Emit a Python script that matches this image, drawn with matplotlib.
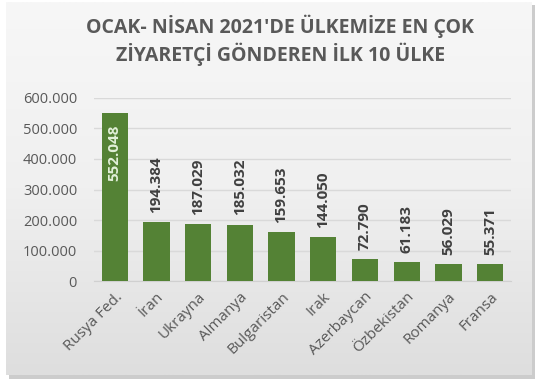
import matplotlib
matplotlib.use("Agg")
import matplotlib.pyplot as plt
import numpy as np
from matplotlib.patches import Rectangle
from matplotlib.colors import LinearSegmentedColormap

countries = ["Rusya Fed.", "İran", "Ukrayna", "Almanya", "Bulgaristan", "Irak",
             "Azerbaycan", "Özbekistan", "Romanya", "Fransa"]
values = [552048, 194384, 187029, 185032, 159653, 144050, 72790, 61183, 56029, 55371]
yticks = [0, 100000, 200000, 300000, 400000, 500000, 600000]
title = "OCAK- NİSAN 2021'DE ÜLKEMİZE EN ÇOK\nZİYARETÇİ GÖNDEREN İLK 10 ÜLKE"

def fmt(v):
    return f"{v:,}".replace(",", ".")

plt.rcParams['font.family'] = ['Open Sans', 'DejaVu Sans']

fig = plt.figure(figsize=(5.39, 3.84), dpi=100, facecolor='white')

# background panel with gradient and shadow
bg = fig.add_axes([0, 0, 1, 1], zorder=-10)
bg.set_xlim(0, 539); bg.set_ylim(384, 0); bg.axis('off')
bg.add_patch(Rectangle((9, 5), 526, 374, facecolor='#9a9a9a', edgecolor='none', alpha=0.5))
grad = np.linspace(0, 1, 256)[:, None]
cmap = LinearSegmentedColormap.from_list('g', ['#f7f7f7', '#f0f0f0', '#dedede'])
bg.imshow(grad, cmap=cmap, extent=[6, 532, 375, 2], aspect='auto', zorder=1)

ax = fig.add_axes([0.174, 0.268, 0.774, 0.477])
ax.set_facecolor('none')
x = np.arange(len(countries))
ax.bar(x, values, width=0.63, color='#548235', zorder=3)
ax.set_ylim(0, 600000)
ax.set_xlim(-0.5, len(countries) - 0.5)
ax.set_yticks(yticks)
ax.set_yticklabels([fmt(v) for v in yticks], fontsize=10.5, color='#595959')
ax.set_xticks(x)
ax.set_xticklabels(countries, rotation=45, ha='right', rotation_mode='anchor',
                   fontsize=11, color='#595959')
ax.tick_params(axis='both', length=0, pad=6)
ax.tick_params(axis='y', pad=12)
ax.grid(axis='y', color='#d9d9d9', linewidth=1, zorder=0)
for s in ['top', 'right', 'left']:
    ax.spines[s].set_visible(False)
ax.spines['bottom'].set_color('#d0d0d0')

for i, v in enumerate(values):
    if i == 0:
        ax.text(i, v - 38000, fmt(v), rotation=90, ha='center', va='top',
                fontsize=11, fontweight='bold', color='#e2f0d9', zorder=4)
    else:
        ax.text(i, v + 30000, fmt(v), rotation=90, ha='center', va='bottom',
                fontsize=11, fontweight='bold', color='#404040', zorder=4)

fig.text(0.52, 0.895, title, ha='center', va='center', fontsize=14,
         fontweight='bold', color='#595959', linespacing=1.2)

fig.savefig('out.png', dpi=100, facecolor=fig.get_facecolor())
